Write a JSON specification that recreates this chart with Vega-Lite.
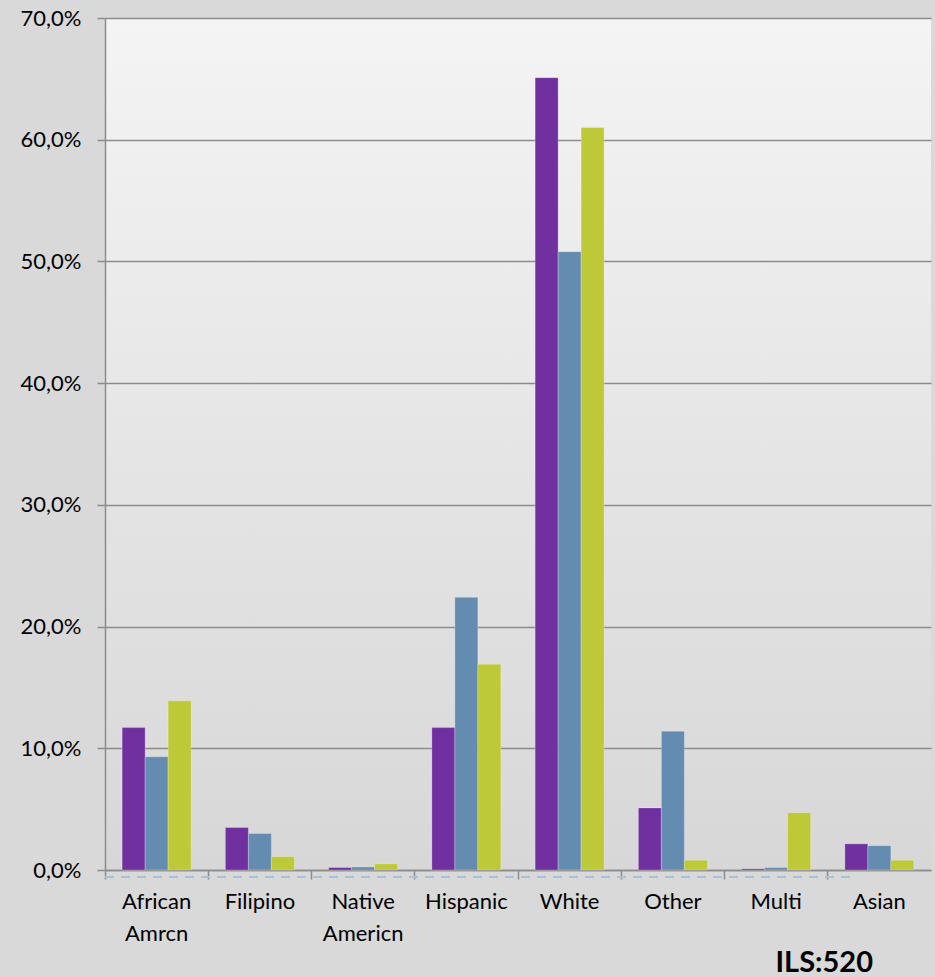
{
  "$schema": "https://vega.github.io/schema/vega-lite/v6.json",
  "width": 826,
  "height": 852,
  "autosize": {"type": "none"},
  "padding": {"left": 105, "top": 18, "right": 4, "bottom": 107},
  "background": "#d9d9d9",
  "title": {
    "text": "ILS:520",
    "orient": "bottom",
    "anchor": "end",
    "dx": -58,
    "offset": 5,
    "font": "Lato",
    "fontSize": 29,
    "fontWeight": "bold",
    "color": "#000000"
  },
  "config": {
    "view": {
      "stroke": null,
      "fill": {
        "gradient": "linear",
        "x1": 0, "y1": 0, "x2": 0, "y2": 1,
        "stops": [
          {"offset": 0, "color": "#f4f4f4"},
          {"offset": 1, "color": "#d7d7d7"}
        ]
      }
    },
    "font": "Lato"
  },
  "data": {
    "values": [
      {"group": "African Amrcn", "series": "A", "value": 11.7},
      {"group": "African Amrcn", "series": "B", "value": 9.3},
      {"group": "African Amrcn", "series": "C", "value": 13.9},
      {"group": "Filipino", "series": "A", "value": 3.5},
      {"group": "Filipino", "series": "B", "value": 3.0},
      {"group": "Filipino", "series": "C", "value": 1.1},
      {"group": "Native Americn", "series": "A", "value": 0.2},
      {"group": "Native Americn", "series": "B", "value": 0.25},
      {"group": "Native Americn", "series": "C", "value": 0.5},
      {"group": "Hispanic", "series": "A", "value": 11.7},
      {"group": "Hispanic", "series": "B", "value": 22.4},
      {"group": "Hispanic", "series": "C", "value": 16.9},
      {"group": "White", "series": "A", "value": 65.1},
      {"group": "White", "series": "B", "value": 50.8},
      {"group": "White", "series": "C", "value": 61.0},
      {"group": "Other", "series": "A", "value": 5.1},
      {"group": "Other", "series": "B", "value": 11.4},
      {"group": "Other", "series": "C", "value": 0.8},
      {"group": "Multi", "series": "A", "value": 0.1},
      {"group": "Multi", "series": "B", "value": 0.2},
      {"group": "Multi", "series": "C", "value": 4.7},
      {"group": "Asian", "series": "A", "value": 2.15},
      {"group": "Asian", "series": "B", "value": 2.0},
      {"group": "Asian", "series": "C", "value": 0.8}
    ]
  },
  "layer": [
    {
      "mark": {"type": "bar", "stroke": "#ffffff", "strokeOpacity": 0.25, "strokeWidth": 1},
      "encoding": {
        "x": {
          "field": "group",
          "type": "nominal",
          "sort": null,
          "scale": {"paddingInner": 0, "paddingOuter": 0},
          "axis": {
            "title": null,
            "labelAngle": 0,
            "labelExpr": "split(datum.label, ' ')",
            "labelFontSize": 22,
            "labelColor": "#000000",
            "labelLineHeight": 32,
            "labelPadding": 12,
            "bandPosition": 0,
            "ticks": true,
            "tickSize": 9,
            "tickColor": "#8c8c8c",
            "tickWidth": 1.5,
            "domainColor": "#8c8c8c",
            "domainWidth": 1.5,
            "grid": false
          }
        },
        "xOffset": {
          "field": "series",
          "type": "nominal",
          "scale": {"paddingInner": 0, "paddingOuter": 0.745}
        },
        "y": {
          "field": "value",
          "type": "quantitative",
          "scale": {"domain": [0, 70], "nice": false},
          "axis": {
            "title": null,
            "values": [0, 10, 20, 30, 40, 50, 60, 70],
            "labelExpr": "replace(format(datum.value, '.1f'), '.', ',') + '%'",
            "labelFontSize": 22,
            "labelColor": "#000000",
            "labelPadding": 16,
            "tickSize": 8,
            "tickColor": "#8c8c8c",
            "tickWidth": 1.5,
            "domainColor": "#8c8c8c",
            "domainWidth": 1.5,
            "grid": true,
            "gridColor": "#8c8c8c",
            "gridWidth": 1.5
          }
        },
        "color": {
          "field": "series",
          "type": "nominal",
          "scale": {"domain": ["A", "B", "C"], "range": ["#7030a0", "#648cb1", "#bdc936"]},
          "legend": null
        }
      }
    },
    {
      "mark": {"type": "rule", "color": "#a6c2dc", "strokeWidth": 1.5, "strokeDash": [9, 7], "clip": false},
      "encoding": {
        "x": {"datum": "African Amrcn", "type": "nominal", "bandPosition": 0},
        "x2": {"datum": "Asian", "bandPosition": 0.25},
        "y": {"datum": -0.6, "type": "quantitative"}
      }
    }
  ]
}
